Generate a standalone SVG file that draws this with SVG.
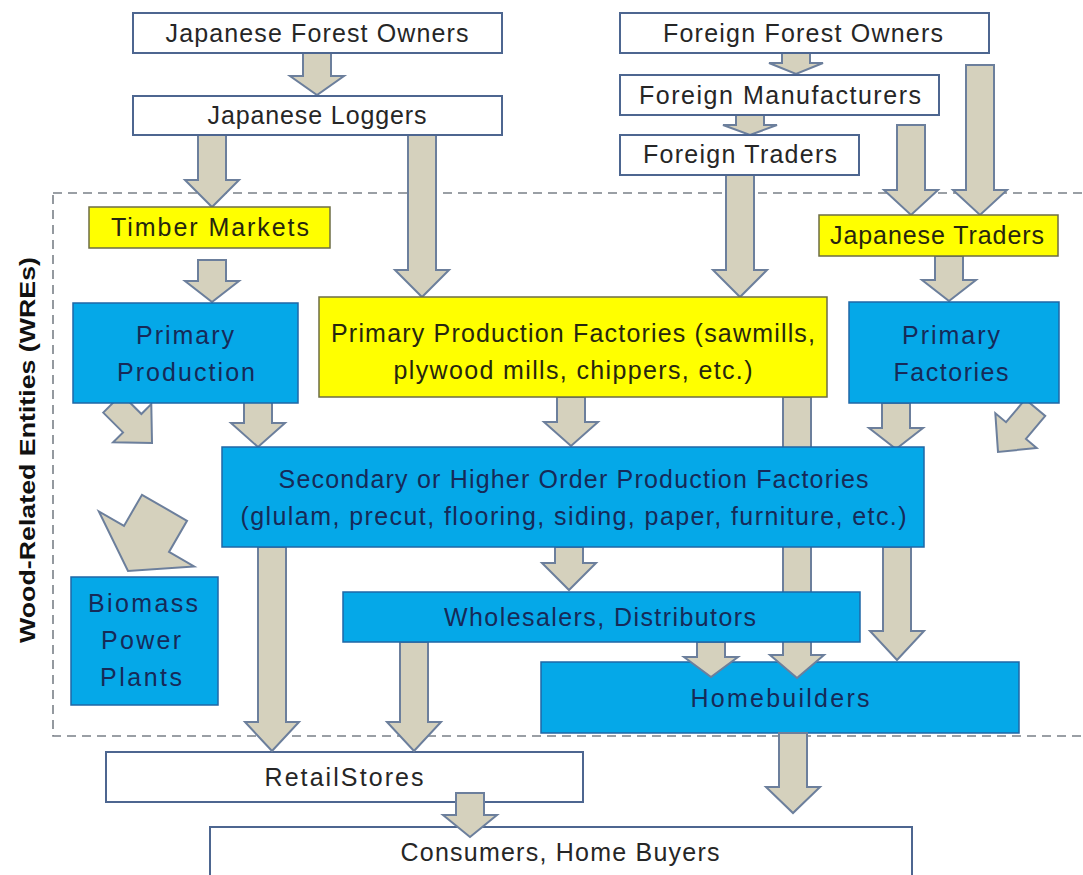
<svg xmlns="http://www.w3.org/2000/svg" width="1083" height="875" viewBox="0 0 1083 875">
<style>
.wbox{fill:#ffffff;stroke:#4d6690;stroke-width:2}
.ybox{fill:#ffff00;stroke:#6d6d45;stroke-width:1.5}
.bbox{fill:#05a8e8;stroke:#1f67a6;stroke-width:1.5}
.arr{fill:#d5d1bd;stroke:#6c7f9c;stroke-width:2;stroke-linejoin:miter}
text{font-family:"Liberation Sans",Arial,sans-serif;font-size:25px;text-anchor:middle}
.tw{fill:#262626}
.ty{fill:#26260f}
.tb{fill:#162a58}
.lbl{font-weight:bold;font-size:22px;fill:#111}
</style>
<rect width="1083" height="875" fill="#ffffff"/>
<rect id="wre-boundary" x="53" y="193" width="1060" height="543" fill="none" stroke="#7a8088" stroke-width="1.6" stroke-dasharray="9 6"/>
<g id="homebuilders"><rect class="bbox" x="541" y="662" width="478" height="71"/><text class="tb" x="780" y="706.5" textLength="179" lengthAdjust="spacing">Homebuilders</text></g>
<g id="consumers"><rect class="wbox" x="210" y="827" width="702" height="60"/><text class="tw" x="560" y="861" textLength="319" lengthAdjust="spacing">Consumers, Home Buyers</text></g>
<g id="retail"><rect class="wbox" x="106" y="752" width="477" height="50"/><text class="tw" x="344" y="786" textLength="159" lengthAdjust="spacing">RetailStores</text></g>
<g id="connectors">
<polygon class="arr" points="303,53 331,53 331,76 344,76 317,95 290,76 303,76"/>
<polygon class="arr" points="198,135 226,135 226,180 239,180 212,207 185,180 198,180"/>
<polygon class="arr" points="408,135 436,135 436,270 449,270 422,297 395,270 408,270"/>
<polygon class="arr" points="782,53 810,53 810,63 823,63 796,74 769,63 782,63"/>
<polygon class="arr" points="736,115 764,115 764,125 777,125 750,135 723,125 736,125"/>
<polygon class="arr" points="726,175 754,175 754,270 767,270 740,297 713,270 726,270"/>
<polygon class="arr" points="897,125 925,125 925,190 938,190 911,215 884,190 897,190"/>
<polygon class="arr" points="966,65 994,65 994,190 1007,190 980,215 953,190 966,190"/>
<polygon class="arr" points="198,260 226,260 226,281 239,281 212,302 185,281 198,281"/>
<polygon class="arr" points="935,256 963,256 963,280 976,280 949,301 922,280 935,280"/>
<polygon class="arr" points="244,398 272,398 272,423 285,423 258,447 231,423 244,423"/>
<polygon class="arr" points="557,397 585,397 585,422 598,422 571,446 544,422 557,422"/>
<polygon class="arr" points="882,403 910,403 910,428 923,428 896,449 869,428 882,428"/>
<polygon class="arr" points="783,397 811,397 811,655 824,655 797,678 770,655 783,655"/>
<polygon class="arr" points="258,547 286,547 286,722 299,722 272,751 245,722 258,722"/>
<polygon class="arr" points="555,547 583,547 583,563 596,563 569,590 542,563 555,563"/>
<polygon class="arr" points="400,642 428,642 428,722 441,722 414,751 387,722 400,722"/>
<polygon class="arr" points="697,642 725,642 725,657 738,657 711,677 684,657 697,657"/>
<polygon class="arr" points="883,547 911,547 911,631 924,631 897,660 870,631 883,631"/>
<polygon class="arr" points="779,733 807,733 807,787 820,787 793,813 766,787 779,787"/>
<polygon class="arr" points="456,793 484,793 484,815 497,815 470,837 443,815 456,815"/>
<polygon class="arr" transform="translate(152,443) rotate(-45)" points="-13,-56 13,-56 13,-28 27,-28 0,0 -27,-28 -13,-28"/>
<polygon class="arr" transform="translate(128,571) rotate(30)" points="-26,-73 26,-73 26,-37 55,-37 0,0 -55,-37 -26,-37"/>
<polygon class="arr" transform="translate(998,452) rotate(40)" points="-13,-58 13,-58 13,-28 27,-28 0,0 -27,-28 -13,-28"/>
</g>
<g id="jp-forest-owners"><rect class="wbox" x="133" y="13" width="369" height="40"/><text class="tw" x="317" y="42" textLength="303" lengthAdjust="spacing">Japanese Forest Owners</text></g>
<g id="jp-loggers"><rect class="wbox" x="133" y="96" width="369" height="39"/><text class="tw" x="317" y="124" textLength="219" lengthAdjust="spacing">Japanese Loggers</text></g>
<g id="fg-forest-owners"><rect class="wbox" x="620" y="13" width="369" height="40"/><text class="tw" x="803" y="42" textLength="280" lengthAdjust="spacing">Foreign Forest Owners</text></g>
<g id="fg-manufacturers"><rect class="wbox" x="620" y="75" width="319" height="40"/><text class="tw" x="780" y="104" textLength="282" lengthAdjust="spacing">Foreign Manufacturers</text></g>
<g id="fg-traders"><rect class="wbox" x="620" y="135" width="239" height="40"/><text class="tw" x="740" y="163" textLength="194" lengthAdjust="spacing">Foreign Traders</text></g>
<g id="timber-markets"><rect class="ybox" x="89" y="207" width="241" height="41"/><text class="ty" x="210" y="236" textLength="198" lengthAdjust="spacing">Timber Markets</text></g>
<g id="jp-traders"><rect class="ybox" x="819" y="215" width="239" height="41"/><text class="ty" x="937" y="244" textLength="214" lengthAdjust="spacing">Japanese Traders</text></g>
<g id="primary-production"><rect class="bbox" x="73" y="303" width="225" height="100"/><text class="tb" x="185" y="344" textLength="98" lengthAdjust="spacing">Primary</text><text class="tb" x="186" y="381" textLength="138" lengthAdjust="spacing">Production</text></g>
<g id="primary-production-factories"><rect class="ybox" x="319" y="297" width="508" height="100"/><text class="ty" x="573" y="342" textLength="484" lengthAdjust="spacing">Primary Production Factories (sawmills,</text><text class="ty" x="573" y="379" textLength="359" lengthAdjust="spacing">plywood mills, chippers, etc.)</text></g>
<g id="primary-factories"><rect class="bbox" x="849" y="302" width="210" height="101"/><text class="tb" x="951" y="344" textLength="98" lengthAdjust="spacing">Primary</text><text class="tb" x="951" y="381" textLength="115" lengthAdjust="spacing">Factories</text></g>
<g id="secondary"><rect class="bbox" x="222" y="447" width="702" height="100"/><text class="tb" x="573.5" y="488" textLength="590" lengthAdjust="spacing">Secondary or Higher Order Production Factories</text><text class="tb" x="573.5" y="525" textLength="666" lengthAdjust="spacing">(glulam, precut, flooring, siding, paper, furniture, etc.)</text></g>
<g id="biomass"><rect class="bbox" x="71" y="577" width="147" height="128"/><text class="tb" x="143" y="612" textLength="110" lengthAdjust="spacing">Biomass</text><text class="tb" x="141" y="649" textLength="80" lengthAdjust="spacing">Power</text><text class="tb" x="141" y="686" textLength="82" lengthAdjust="spacing">Plants</text></g>
<g id="wholesalers"><rect class="bbox" x="343" y="592" width="517" height="50"/><text class="tb" x="600" y="626" textLength="312" lengthAdjust="spacing">Wholesalers, Distributors</text></g>
<g id="wre-label"><text class="lbl" transform="translate(35,450) rotate(-90)" x="0" y="0" textLength="386" lengthAdjust="spacingAndGlyphs">Wood-Related Entities (WREs)</text></g>
</svg>
